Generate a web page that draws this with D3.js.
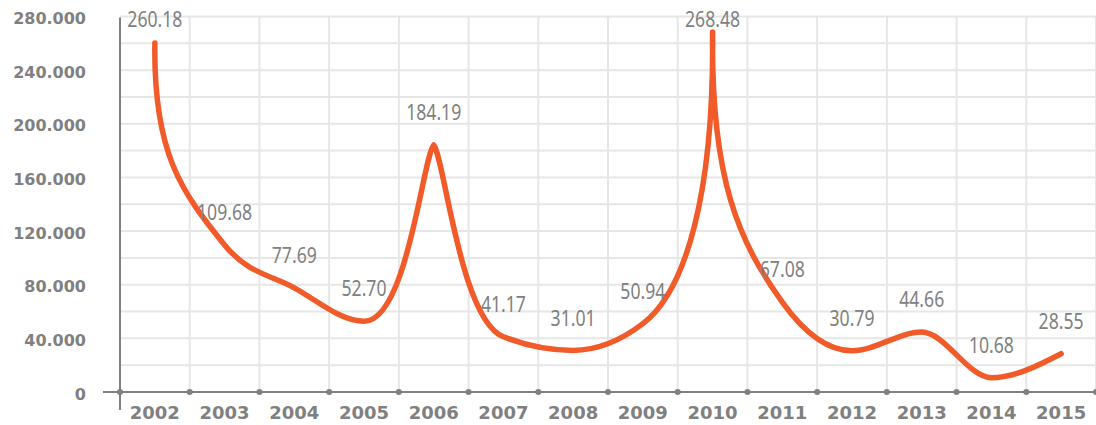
<!DOCTYPE html>
<html>
<head>
<meta charset="utf-8">
<script src="https://cdn.jsdelivr.net/npm/d3@7"></script>
<style>
  html, body { margin: 0; padding: 0; background: #ffffff; }
  svg { display: block; }
</style>
</head>
<body>
<svg id="chart" width="1096" height="425"></svg>
<script>
// Yearly values
const years = ["2002", "2003", "2004", "2005", "2006", "2007", "2008",
               "2009", "2010", "2011", "2012", "2013", "2014", "2015"];
const values = [260.18, 109.68, 77.69, 52.70, 184.19, 41.17, 31.01,
                50.94, 268.48, 67.08, 30.79, 44.66, 10.68, 28.55];

// Value axis
const yTickValues = [0, 40, 80, 120, 160, 200, 240, 280];
const yTickLabels = ["0", "40.000", "80.000", "120.000", "160.000",
                     "200.000", "240.000", "280.000"];

const grey = "#808080";
const gridColor = "#e6e6e6";
const lineColor = "#f15a29";

const svg = d3.select("#chart");

const x = d3.scaleBand().domain(years).range([120, 1096]).padding(0);
const y = d3.scaleLinear().domain([0, 280]).range([392, 16.5]);
const cx = d => x(d) + x.bandwidth() / 2;

// Monotone cubic spline in which tall, narrow maxima are drawn as
// spikes: the handles at such a peak turn towards the vertical and the
// neighbouring handles that face the peak are stretched.
function spikeSpline(context) {
  const clamp01 = v => Math.max(0, Math.min(1, v));
  return {
    areaStart() {}, areaEnd() {},
    lineStart() { this.pts = []; },
    point(px, py) { this.pts.push([+px, +py]); },
    lineEnd() {
      const p = this.pts, n = p.length;
      if (!n) return;
      context.moveTo(p[0][0], p[0][1]);
      if (n === 1) return;
      // Fritsch-Carlson slopes
      const sec = [];
      for (let i = 0; i < n - 1; i++) sec.push((p[i + 1][1] - p[i][1]) / (p[i + 1][0] - p[i][0]));
      const m = new Array(n).fill(0);
      for (let i = 1; i < n - 1; i++) {
        const s0 = sec[i - 1], s1 = sec[i];
        const h0 = p[i][0] - p[i - 1][0], h1 = p[i + 1][0] - p[i][0];
        const q = (s0 * h1 + s1 * h0) / (h0 + h1);
        m[i] = (Math.sign(s0) + Math.sign(s1)) * Math.min(Math.abs(s0), Math.abs(s1), 0.5 * Math.abs(q)) || 0;
      }
      m[0] = n > 2 ? (3 * sec[0] - m[1]) / 2 : sec[0];
      m[n - 1] = n > 2 ? (3 * sec[n - 2] - m[n - 2]) / 2 : sec[0];

      // default handles, one third of the gap along the tangent
      const out = [], inn = [];
      for (let i = 0; i < n; i++) {
        const hOut = i < n - 1 ? (p[i + 1][0] - p[i][0]) / 3 : 0;
        const hIn = i > 0 ? (p[i][0] - p[i - 1][0]) / 3 : 0;
        out[i] = [p[i][0] + hOut, p[i][1] + m[i] * hOut];
        inn[i] = [p[i][0] - hIn, p[i][1] - m[i] * hIn];
      }

      // spikes
      const reach = 0.62;
      for (let i = 0; i < n; i++) {
        const prev = p[i - 1], next = p[i + 1], cur = p[i];
        const drops = [];
        if (prev) drops.push(prev[1] - cur[1]);
        if (next) drops.push(next[1] - cur[1]);
        if (!drops.length || Math.min(...drops) <= 0) continue;
        const dx = Math.abs((next || prev)[0] - cur[0]);
        const s = Math.min(...drops) / dx;
        if (s < 1.8) continue;
        const t = clamp01((s - 2.5) / 0.4);
        const hx = dx * (0.17 * (1 - t) - 0.025 * t);
        const hy = 0.03 + 0.52 * t;
        if (prev) {
          inn[i] = [cur[0] - hx, cur[1] + hy * (prev[1] - cur[1])];
          const L = (cur[0] - prev[0]) * reach;
          out[i - 1] = [prev[0] + L, prev[1] + m[i - 1] * L];
        }
        if (next) {
          out[i] = [cur[0] + hx, cur[1] + hy * (next[1] - cur[1])];
          const L = (next[0] - cur[0]) * reach;
          inn[i + 1] = [next[0] - L, next[1] - m[i + 1] * L];
        }
      }
      for (let i = 0; i < n - 1; i++) {
        context.bezierCurveTo(out[i][0], out[i][1], inn[i + 1][0], inn[i + 1][1], p[i + 1][0], p[i + 1][1]);
      }
    }
  };
}

// Horizontal grid, every 20
const gridG = svg.append("g");
gridG.selectAll("line.h")
  .data(y.ticks(14))
  .join("line")
  .attr("class", "h")
  .attr("x1", 120).attr("x2", 1096)
  .attr("y1", d => y(d)).attr("y2", d => y(d))
  .attr("stroke", gridColor).attr("stroke-width", 2);

// Vertical grid at category boundaries
gridG.selectAll("line.v")
  .data(years)
  .join("line")
  .attr("class", "v")
  .attr("x1", d => x(d) + x.bandwidth()).attr("x2", d => x(d) + x.bandwidth())
  .attr("y1", y(280)).attr("y2", y(0))
  .attr("stroke", gridColor).attr("stroke-width", 2);

// Axes
svg.append("line")
  .attr("x1", 103).attr("x2", 1096).attr("y1", y(0)).attr("y2", y(0))
  .attr("stroke", grey).attr("stroke-width", 2);
svg.append("line")
  .attr("x1", 120).attr("x2", 120).attr("y1", y(280) + 1).attr("y2", 410)
  .attr("stroke", grey).attr("stroke-width", 2);

svg.append("g").selectAll("circle")
  .data([years[0], ...years])
  .join("circle")
  .attr("cx", (d, i) => i === 0 ? x(d) : x(d) + x.bandwidth())
  .attr("cy", y(0))
  .attr("r", 3)
  .attr("fill", grey);

// Y tick labels
svg.append("g").selectAll("text")
  .data(yTickValues)
  .join("text")
  .attr("x", 86)
  .attr("y", d => y(d) + 2)
  .attr("text-anchor", "end")
  .attr("dominant-baseline", "central")
  .attr("font-family", "'DejaVu Sans', Verdana, sans-serif")
  .attr("font-weight", "bold")
  .attr("font-size", 16)
  .attr("fill", grey)
  .text((d, i) => yTickLabels[i]);

// X tick labels
svg.append("g").selectAll("text")
  .data(years)
  .join("text")
  .attr("x", d => cx(d))
  .attr("y", 419)
  .attr("text-anchor", "middle")
  .attr("font-family", "'DejaVu Sans', Verdana, sans-serif")
  .attr("font-weight", "bold")
  .attr("font-size", 18)
  .attr("fill", grey)
  .text(d => d);

// Line
const line = d3.line()
  .x((d, i) => cx(years[i]))
  .y(d => y(d))
  .curve(spikeSpline);

svg.append("path")
  .datum(values)
  .attr("d", line)
  .attr("fill", "none")
  .attr("stroke", lineColor)
  .attr("stroke-width", 5.5)
  .attr("stroke-linecap", "round")
  .attr("stroke-linejoin", "round");

// Value labels (narrowed sans)
svg.append("g").selectAll("text")
  .data(values)
  .join("text")
  .attr("transform", (d, i) =>
    `translate(${cx(years[i])},${Math.max(y(d) - 33, 19)}) scale(0.84,1)`)
  .attr("text-anchor", "middle")
  .attr("dominant-baseline", "central")
  .attr("font-family", "'Noto Sans', 'Open Sans', sans-serif")
  .attr("font-size", 21)
  .attr("fill", grey)
  .text(d => d.toFixed(2));
</script>
</body>
</html>
